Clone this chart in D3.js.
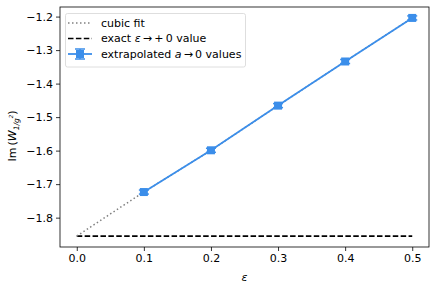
<!DOCTYPE html>
<html><head><meta charset="utf-8">
<script src="https://cdn.jsdelivr.net/npm/d3@7"></script>
<style>body{margin:0;background:#fff}svg text{font-family:"DejaVu Sans",sans-serif}</style>
</head><body>
<svg id="c" width="437" height="289"></svg>
<script>
const epsValues = [0.1, 0.2, 0.3, 0.4, 0.5];
const imValues = [-1.7236, -1.599, -1.4657, -1.334, -1.204];
const imErrors = [0.006, 0.006, 0.006, 0.006, 0.006];
const fitEps = [0.0, 0.05, 0.1, 0.2, 0.3, 0.4, 0.5];
const fitValues = [-1.855, -1.789, -1.7236, -1.599, -1.4657, -1.334, -1.204];
const exactValue = -1.855;
const xTicks = [0.0, 0.1, 0.2, 0.3, 0.4, 0.5];
const yTicks = [-1.8, -1.7, -1.6, -1.5, -1.4, -1.3, -1.2];
const legendLabels = ["cubic fit", "exact", "extrapolated"];

const svg = d3.select("#c");
const L = 60, R = 429, T = 7, B = 247;
const x = d3.scaleLinear().domain([-0.025, 0.525]).range([L, R]);
const y = d3.scaleLinear().domain([-1.8876, -1.1714]).range([B, T]);
const blue = "#3b8eea";
const fs = 11;

// axes
const xa = svg.append("g").attr("transform", `translate(0,${B})`)
  .call(d3.axisBottom(x).tickValues(xTicks).tickFormat(d3.format(".1f")).tickSizeOuter(0).tickSize(4).tickPadding(3));
const ya = svg.append("g").attr("transform", `translate(${L},0)`)
  .call(d3.axisLeft(y).tickValues(yTicks).tickFormat(d => d3.format(".1f")(d).replace("-", "\u2212")).tickSizeOuter(0).tickSize(4).tickPadding(3));
[xa, ya].forEach(a => {
  a.select(".domain").remove();
  a.selectAll("line").attr("stroke", "#000").attr("stroke-width", 0.8);
  a.selectAll("text").attr("font-size", fs).attr("fill", "#000").attr("font-family", "DejaVu Sans");
});

// exact line
svg.append("line").attr("x1", x(0)).attr("x2", x(0.5)).attr("y1", y(exactValue)).attr("y2", y(exactValue))
  .attr("stroke", "#000").attr("stroke-width", 1.6).attr("stroke-dasharray", "5.5,2.4");

// cubic fit
const line = d3.line().x((d, i) => x(fitEps[i])).y(d => y(d));
svg.append("path").attr("d", line(fitValues)).attr("fill", "none")
  .attr("stroke", "#808080").attr("stroke-width", 1.5).attr("stroke-dasharray", "1.5,2.5");

// data line
const dl = d3.line().x((d, i) => x(epsValues[i])).y(d => y(d));
svg.append("path").attr("d", dl(imValues)).attr("fill", "none").attr("stroke", blue).attr("stroke-width", 1.8);

// error bars and markers
const g = svg.append("g");
imValues.forEach((v, i) => {
  const cx = x(epsValues[i]);
  g.append("line").attr("x1", cx).attr("x2", cx).attr("y1", y(v - imErrors[i])).attr("y2", y(v + imErrors[i])).attr("stroke", blue).attr("stroke-width", 1.5);
  [v - imErrors[i], v + imErrors[i]].forEach(e => g.append("line").attr("x1", cx - 5).attr("x2", cx + 5).attr("y1", y(e)).attr("y2", y(e)).attr("stroke", blue).attr("stroke-width", 1.5));
  g.append("rect").attr("x", cx - 4).attr("y", y(v) - 4).attr("width", 8).attr("height", 8).attr("fill", blue);
});

// frame
svg.append("rect").attr("x", L).attr("y", T).attr("width", R - L).attr("height", B - T)
  .attr("fill", "none").attr("stroke", "#000").attr("stroke-width", 0.8);

// legend
const lg = svg.append("g");
lg.append("rect").attr("x", 65.5).attr("y", 13.5).attr("width", 180).attr("height", 53.5).attr("rx", 2)
  .attr("fill", "#fff").attr("fill-opacity", 0.8).attr("stroke", "#d6d6d6").attr("stroke-width", 0.8);
const rows = [23, 38.5, 54];
const hx1 = 68, hx2 = 92;
lg.append("line").attr("x1", hx1).attr("x2", hx2).attr("y1", rows[0]).attr("y2", rows[0]).attr("stroke", "#808080").attr("stroke-width", 1.5).attr("stroke-dasharray", "1.5,2.5");
lg.append("line").attr("x1", hx1).attr("x2", hx2).attr("y1", rows[1]).attr("y2", rows[1]).attr("stroke", "#000").attr("stroke-width", 1.6).attr("stroke-dasharray", "5.5,2.4");
lg.append("line").attr("x1", hx1).attr("x2", hx2).attr("y1", rows[2]).attr("y2", rows[2]).attr("stroke", blue).attr("stroke-width", 1.8);
const mx = (hx1 + hx2) / 2;
lg.append("line").attr("x1", mx).attr("x2", mx).attr("y1", rows[2] - 5).attr("y2", rows[2] + 5).attr("stroke", blue).attr("stroke-width", 1.5);
[rows[2] - 5, rows[2] + 5].forEach(yy => lg.append("line").attr("x1", mx - 5).attr("x2", mx + 5).attr("y1", yy).attr("y2", yy).attr("stroke", blue).attr("stroke-width", 1.5));
lg.append("rect").attr("x", mx - 4).attr("y", rows[2] - 4).attr("width", 8).attr("height", 8).attr("fill", blue);

const tx = 101;
lg.append("text").attr("x", tx).attr("y", rows[0]).attr("dy", "0.35em").attr("font-size", fs).text(legendLabels[0]);
const t2 = lg.append("text").attr("x", tx).attr("y", rows[1]).attr("dy", "0.35em").attr("font-size", fs);
t2.append("tspan").text(legendLabels[1] + " ");
t2.append("tspan").attr("font-style", "italic").text("\u03b5");
t2.append("tspan").text("\u2009\u2192\u2009+\u20090 value");
const t3 = lg.append("text").attr("x", tx).attr("y", rows[2]).attr("dy", "0.35em").attr("font-size", fs);
t3.append("tspan").text(legendLabels[2] + " ");
t3.append("tspan").attr("font-style", "italic").text("a");
t3.append("tspan").text("\u2009\u2192\u20090 values");

// axis labels
svg.append("text").attr("x", x(0.25)).attr("y", 281).attr("text-anchor", "middle").attr("font-size", fs).attr("font-style", "italic").text("\u03b5");
const yl = svg.append("text").attr("transform", `translate(16,${(T + B) / 2 + 9}) rotate(-90)`).attr("text-anchor", "middle").attr("font-size", fs);
yl.append("tspan").text("Im\u2009(");
yl.append("tspan").attr("font-style", "italic").text("W");
yl.append("tspan").attr("font-size", 7.5).attr("dy", 3).attr("font-style", "italic").text("1/g");
yl.append("tspan").attr("font-size", 5.5).attr("dy", -6).attr("font-style", "italic").text("2");
yl.append("tspan").attr("dy", 3).text(")");
</script>
</body></html>
